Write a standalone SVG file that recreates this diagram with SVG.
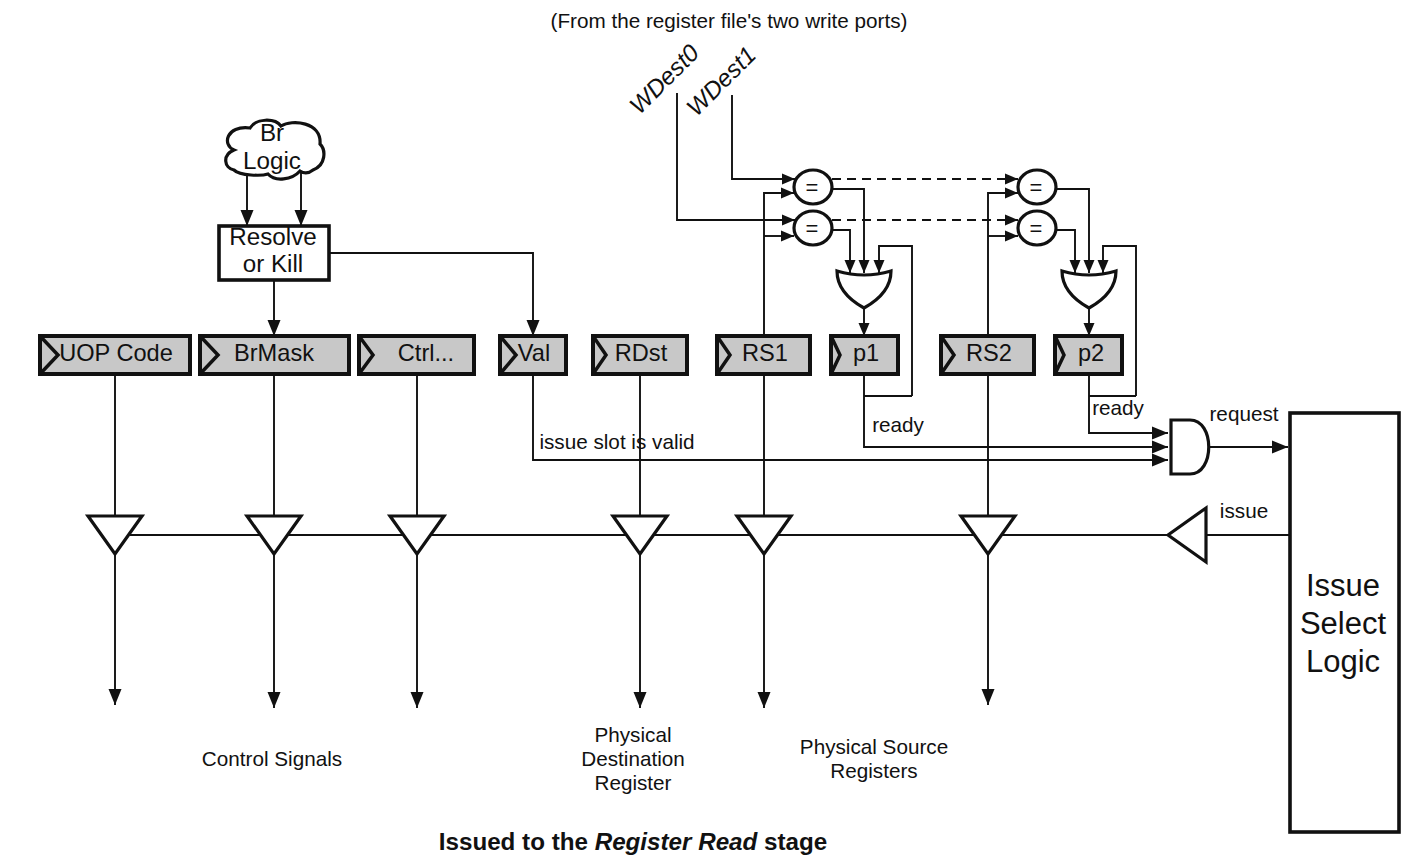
<svg xmlns="http://www.w3.org/2000/svg" width="1423" height="857" viewBox="0 0 1423 857">
<style>
text{font-family:"Liberation Sans",Arial,sans-serif;fill:#111;text-anchor:middle}
.reg rect{fill:#c8c8c8;stroke:#111;stroke-width:4}
.reg path{fill:none;stroke:#111;stroke-width:3.5}
.reg text{font-size:23.6px}
.w{fill:#fff;stroke:#111;stroke-width:3.2}
.gate{fill:#fff;stroke:#111;stroke-width:3.2;stroke-linejoin:miter}
.lab{font-size:20.7px}
.big{font-size:24.2px}
.eq{font-size:22px}
#conn path{fill:none;stroke:#111;stroke-width:1.9}
#conn .d{stroke-dasharray:9 6}
</style>
<defs>
<marker id="a" markerUnits="userSpaceOnUse" markerWidth="17" markerHeight="14" refX="16" refY="7" orient="auto"><path d="M0 .5L16 7L0 13.5Z" fill="#111"/></marker>
<marker id="s" markerUnits="userSpaceOnUse" markerWidth="14" markerHeight="12" refX="13" refY="6" orient="auto"><path d="M0 .5L13 6L0 11.5Z" fill="#111"/></marker>
<path id="tri" class="w" d="M-27 -19H27L0 19Z"/>
</defs>
<rect width="1423" height="857" fill="#fff"/>

<g id="conn">
<path d="M247 172V226" marker-end="url(#a)"/>
<path d="M301 172V226" marker-end="url(#a)"/>
<path d="M274 280V336" marker-end="url(#a)"/>
<path d="M329 253H533V336" marker-end="url(#a)"/>
<path d="M115 374V516"/><path d="M274 374V516"/><path d="M417 374V516"/><path d="M640 374V516"/>
<path d="M764 336V193H794" marker-end="url(#s)"/>
<path d="M764 236H794" marker-end="url(#s)"/>
<path d="M764 374V516"/>
<path d="M988 336V193H1018" marker-end="url(#s)"/>
<path d="M988 236H1018" marker-end="url(#s)"/>
<path d="M988 374V516"/>
<path d="M677 93V220H795" marker-end="url(#s)"/>
<path d="M732 95V179H795" marker-end="url(#s)"/>
<path d="M832 179H1018" class="d" marker-end="url(#s)"/>
<path d="M832 220H1018" class="d" marker-end="url(#s)"/>
<path d="M832 189H864V273" marker-end="url(#s)"/>
<path d="M832 230H850V273" marker-end="url(#s)"/>
<path d="M912 396V246H879V273" marker-end="url(#s)"/>
<path d="M864 308V336" marker-end="url(#s)"/>
<path d="M1057 189H1089V273" marker-end="url(#s)"/>
<path d="M1057 230H1075V273" marker-end="url(#s)"/>
<path d="M1136 396V246H1103V273" marker-end="url(#s)"/>
<path d="M1089 308V336" marker-end="url(#s)"/>
<path d="M864 374V447H1168" marker-end="url(#a)"/>
<path d="M864 396H912"/>
<path d="M1089 374V433H1168" marker-end="url(#a)"/>
<path d="M1089 396H1136"/>
<path d="M533 374V460H1168" marker-end="url(#a)"/>
<path d="M1210 447H1288" marker-end="url(#a)"/>
<path d="M130 535H1167"/>
<path d="M1206 535H1290"/>
<path d="M115 554V705" marker-end="url(#a)"/>
<path d="M274 554V708" marker-end="url(#a)"/>
<path d="M417 554V708" marker-end="url(#a)"/>
<path d="M640 554V708" marker-end="url(#a)"/>
<path d="M764 554V708" marker-end="url(#a)"/>
<path d="M988 554V705" marker-end="url(#a)"/>
</g>

<g id="cloud"><path class="w" d="M250 128C256 118 275 118 281 126C292 119 322 122 320 144C326 150 326 165 313 170C308 174 303 173 300 171C292 180 275 182 268 174C262 176 240 176 234 170C224 168 222 155 234 150C222 145 226 125 250 128Z"/><text class="big" x="272" y="141">Br</text><text class="big" x="272" y="169">Logic</text></g>
<g id="resolve"><rect class="w" style="stroke-width:3.6" x="219" y="226" width="110" height="54"/><text class="big" x="273" y="245">Resolve</text><text class="big" x="273" y="272">or Kill</text></g>

<g id="r-uop" class="reg"><rect x="40" y="336" width="150" height="38"/><path d="M40 336L58 355L40 374"/><text x="116" y="361">UOP Code</text></g>
<g id="r-brmask" class="reg"><rect x="200" y="336" width="149" height="38"/><path d="M200 336L218 355L200 374"/><text x="274" y="361">BrMask</text></g>
<g id="r-ctrl" class="reg"><rect x="359" y="336" width="115" height="38"/><path d="M359 336L373 355L359 374"/><text x="426" y="361">Ctrl...</text></g>
<g id="r-val" class="reg"><rect x="500" y="336" width="66" height="38"/><path d="M500 336L516 355L500 374"/><text x="534" y="361">Val</text></g>
<g id="r-rdst" class="reg"><rect x="593" y="336" width="94" height="38"/><path d="M593 336L606 355L593 374"/><text x="641" y="361">RDst</text></g>
<g id="r-rs1" class="reg"><rect x="717" y="336" width="93" height="38"/><path d="M717 336L730 355L717 374"/><text x="765" y="361">RS1</text></g>
<g id="r-p1" class="reg"><rect x="831" y="336" width="67" height="38"/><path d="M831 336L840 355L831 374"/><text x="866" y="361">p1</text></g>
<g id="r-rs2" class="reg"><rect x="941" y="336" width="93" height="38"/><path d="M941 336L954 355L941 374"/><text x="989" y="361">RS2</text></g>
<g id="r-p2" class="reg"><rect x="1055" y="336" width="67" height="38"/><path d="M1055 336L1064 355L1055 374"/><text x="1091" y="361">p2</text></g>

<g id="eq1"><ellipse class="gate" cx="813" cy="187" rx="19" ry="17"/><text class="eq" x="812" y="195">=</text></g>
<g id="eq2"><ellipse class="gate" cx="813" cy="228" rx="19" ry="17"/><text class="eq" x="812" y="236">=</text></g>
<g id="eq3"><ellipse class="gate" cx="1037" cy="187" rx="19" ry="17"/><text class="eq" x="1036" y="195">=</text></g>
<g id="eq4"><ellipse class="gate" cx="1037" cy="228" rx="19" ry="17"/><text class="eq" x="1036" y="236">=</text></g>

<g id="or1"><path class="gate" d="M837 271Q864 279 891 271Q891 293 864 308Q837 293 837 271Z"/></g>
<g id="or2"><path class="gate" d="M1062 271Q1089 279 1116 271Q1116 293 1089 308Q1062 293 1062 271Z"/></g>
<g id="and"><path class="gate" d="M1171 420H1190C1215 420 1215 474 1190 474H1171Z"/></g>

<g id="t1"><use href="#tri" x="115" y="535"/></g>
<g id="t2"><use href="#tri" x="274" y="535"/></g>
<g id="t3"><use href="#tri" x="417" y="535"/></g>
<g id="t4"><use href="#tri" x="640" y="535"/></g>
<g id="t5"><use href="#tri" x="764" y="535"/></g>
<g id="t6"><use href="#tri" x="988" y="535"/></g>
<g id="t7"><path class="w" d="M1168 535L1206 508V562Z"/></g>

<g id="issue-select"><rect class="w" style="stroke-width:3.6" x="1290" y="413" width="109" height="419"/>
<text style="font-size:31px" x="1343" y="596">Issue</text><text style="font-size:31px" x="1343" y="634">Select</text><text style="font-size:31px" x="1343" y="672">Logic</text></g>

<g id="labels">
<text class="lab" x="729" y="28">(From the register file's two write ports)</text>
<text style="font-size:24.2px;font-style:italic" transform="translate(670 85) rotate(-45)">WDest0</text>
<text style="font-size:24.2px;font-style:italic" transform="translate(727 87) rotate(-45)">WDest1</text>
<text class="lab" x="898" y="432">ready</text>
<text class="lab" x="1118" y="415">ready</text>
<text class="lab" x="1244" y="421">request</text>
<text class="lab" x="1244" y="518">issue</text>
<text class="lab" x="617" y="449">issue slot is valid</text>
<text class="lab" x="272" y="766">Control Signals</text>
<text class="lab" x="633" y="742">Physical</text><text class="lab" x="633" y="766">Destination</text><text class="lab" x="633" y="790">Register</text>
<text class="lab" x="874" y="754">Physical Source</text><text class="lab" x="874" y="778">Registers</text>
<text x="633" y="850" style="font-size:24.2px;font-weight:bold">Issued to the <tspan font-style="italic">Register Read</tspan> stage</text>
</g>
</svg>
